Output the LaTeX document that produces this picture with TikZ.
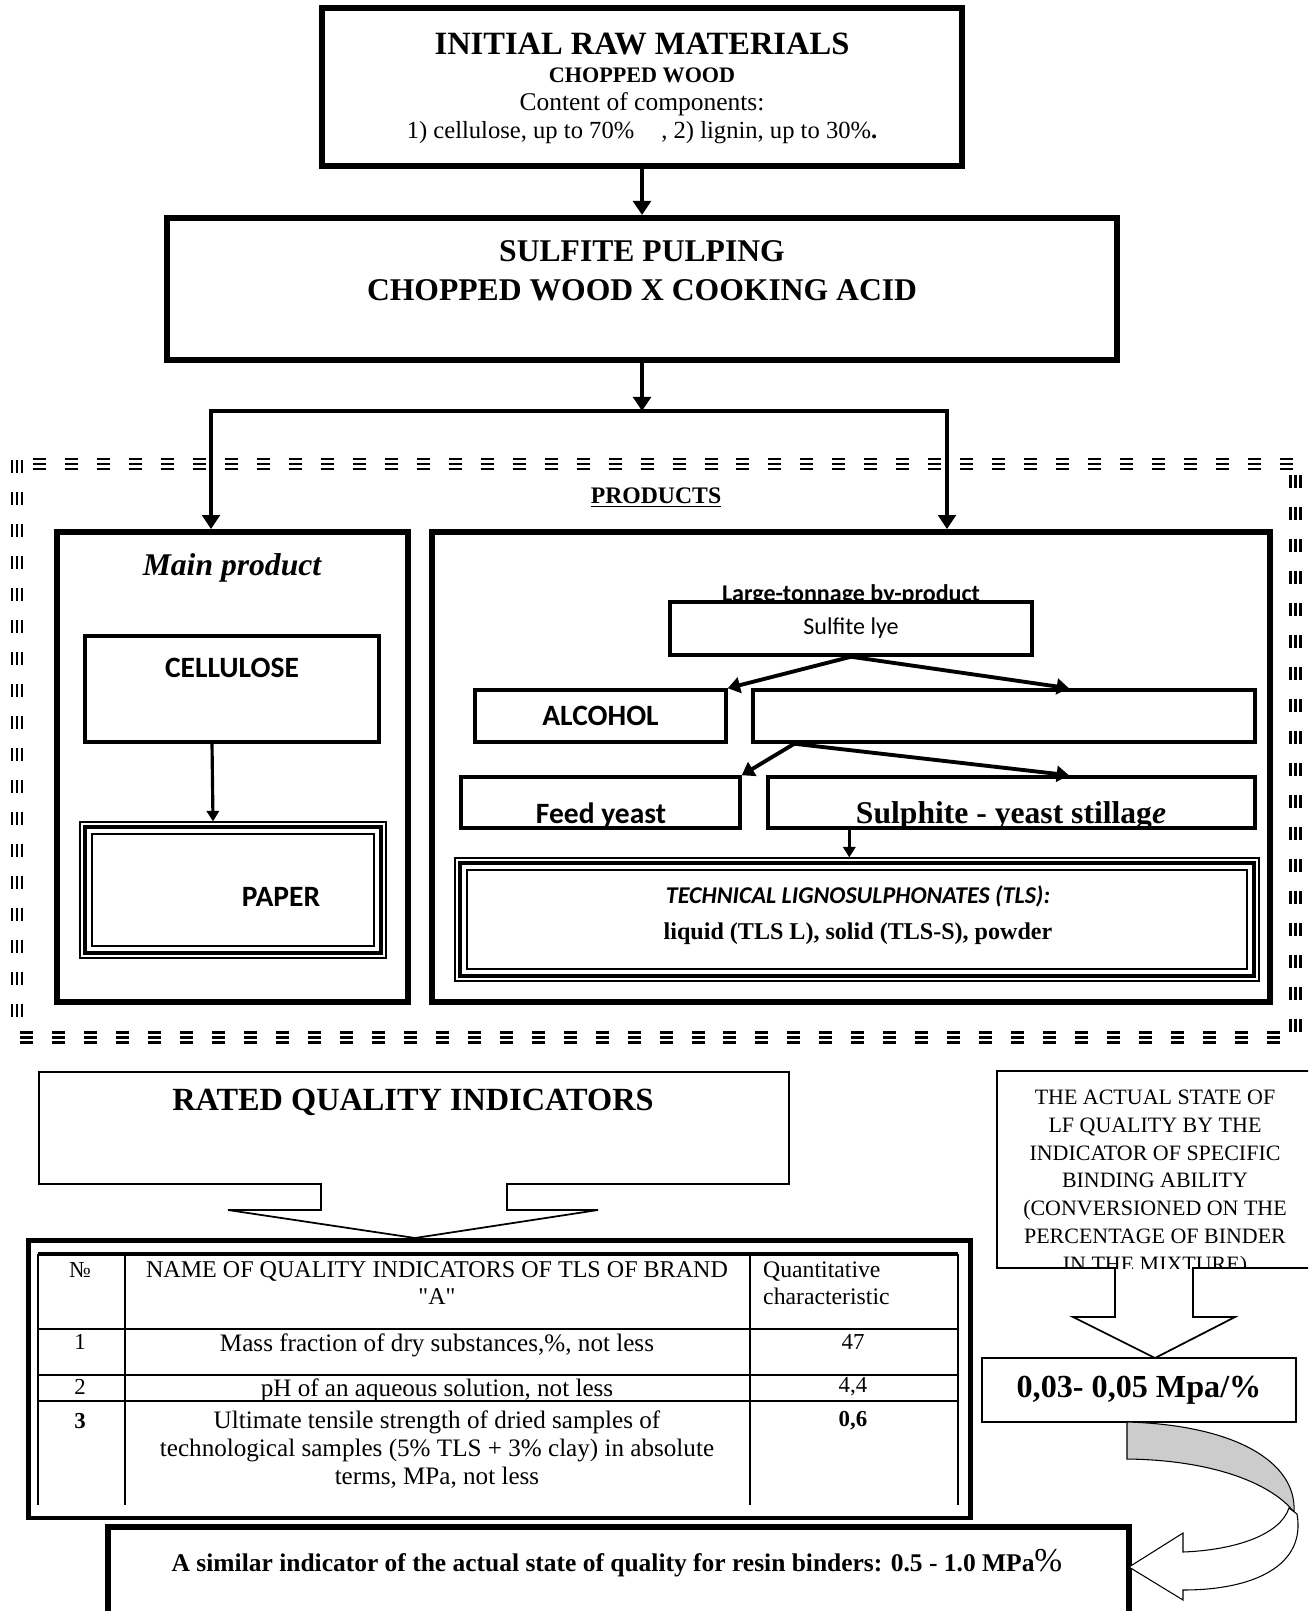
\documentclass[tikz,border=0pt]{standalone}
\usepackage{fontspec}
\setmainfont{Liberation Serif}
\newfontfamily\calibfont{Carlito}
\usetikzlibrary{arrows.meta}

\newcommand{\fsz}[2]{\fontsize{#1}{#2}\selectfont}
\newcommand{\tripleframe}[1]{%
  \draw[line width=2.2pt] ([xshift=0.11cm,yshift=-0.11cm]#1.north west) rectangle ([xshift=-0.11cm,yshift=0.11cm]#1.south east);
  \draw[line width=0.9pt] ([xshift=0.25cm,yshift=-0.25cm]#1.north west) rectangle ([xshift=-0.25cm,yshift=0.25cm]#1.south east);}

\begin{document}
\begin{tikzpicture}[x=0.02cm, y=-0.02cm,
    heavybox/.style={draw, line width=3.4pt, inner sep=0pt},
    midbox/.style={draw, line width=2pt, inner sep=0pt},
    thinbox/.style={draw, line width=0.7pt, inner sep=0pt},
    thinline/.style={line width=1pt},
    calib/.style={font=\calibfont\bfseries\fsz{16.8}{20}},
    arr/.style={line width=2.6pt, -{Triangle[length=8pt,width=10pt]}},
    arrboth/.style={line width=2.6pt, {Triangle[length=8pt,width=10pt]}-{Triangle[length=8pt,width=10pt]}},
    subarr/.style={line width=2.2pt, -{Triangle[length=7pt,width=9pt]}},
    midarr/.style={line width=1.8pt, -{Triangle[length=6pt,width=7pt]}},
    frameline/.style={line width=1.7pt, dash pattern=on 7.4pt off 10.8pt}
  ]
  \useasboundingbox (0,0) rectangle (1308,1611);

  % raw materials and pulping
  \node[heavybox, minimum width=12.8cm, minimum height=3.16cm] (raw) at (642,87) {};
  \node[font=\bfseries\fsz{18.5}{21}] (rawtitle) at (642,44) {INITIAL RAW MATERIALS};
  \node[font=\bfseries\fsz{12.6}{15}] (rawsub) at (642,75) {CHOPPED WOOD};
  \node[font=\fsz{14.5}{16}] (rawc1) at (642,104) {Content of components:};
  \node[font=\fsz{14}{16}] (rawc2) at (642,133) {1) cellulose, up to 70\%\hspace{1.1em}, 2) lignin, up to 30\%\textbf{.}};

  \node[heavybox, minimum width=19cm, minimum height=2.84cm] (pulp) at (642,289) {};
  \node[font=\bfseries\fsz{18}{22}, align=center] (pulptxt) at (642,271) {SULFITE PULPING\\CHOPPED WOOD X COOKING ACID};

  \coordinate (split) at (642,411);
  \coordinate (splitL) at (211,411);
  \coordinate (splitR) at (947,411);
  \draw[arr] (raw.south) -- (pulp.north);
  \draw[arr] (pulp.south) -- (split);

  % products frame
  \foreach \off in {-5,0,5} {
    \draw[frameline] (33,{464+\off}) -- (1295,{464+\off});
    \draw[frameline] (20,{1037+\off}) -- (1284,{1037+\off});
    \draw[frameline] ({17+\off},460) -- ({17+\off},1025);
    \draw[frameline] ({1295+\off},475) -- ({1295+\off},1040);
  }
  \node[font=\bfseries\fsz{13.5}{16}] (prod) at (656,498) {\underline{PRODUCTS}};

  \node[heavybox, minimum width=7.02cm, minimum height=9.4cm] (mainbox) at (232.5,767) {};
  \node[heavybox, minimum width=16.76cm, minimum height=9.4cm] (bybox) at (851,767) {};
  \draw[arrboth] (splitL |- mainbox.north) -- (splitL) -- (splitR) -- (splitR |- bybox.north);

  % main product
  \node[font=\bfseries\itshape\fsz{18}{21}] (maintitle) at (232,568) {Main product};
  \node[midbox, minimum width=5.88cm, minimum height=2.12cm] (cell) at (232,689) {};
  \node[calib] (celltxt) at (232,668) {CELLULOSE};
  \node[thinbox, minimum width=6.12cm, minimum height=2.72cm] (paper) at (233,890) {};
  \tripleframe{paper}
  \node[calib] (papertxt) at (281,897) {PAPER};
  \draw[midarr] ([xshift=-0.4cm]cell.south) -- ([xshift=-0.4cm]paper.north);

  % by-product
  \node[font=\calibfont\bfseries\fsz{13.7}{16}, anchor=base] (bytitle) at (851,601) {Large-tonnage by-product};
  \node[midbox, fill=white, minimum width=7.24cm, minimum height=1.06cm, font=\calibfont\fsz{13.7}{16}] (lye) at (851,628.5) {Sulfite lye};
  \node[midbox, minimum width=5.02cm, minimum height=1.04cm, calib] (alc) at (600.5,716) {ALCOHOL};
  \node[midbox, minimum width=10.04cm, minimum height=1.04cm] (emp) at (1004,716) {};
  \node[midbox, minimum width=5.58cm, minimum height=1.02cm] (feed) at (600.5,802.5) {};
  \node[midbox, minimum width=9.74cm, minimum height=1.02cm] (still) at (1011.5,802.5) {};
  \begin{scope}
    \clip (feed.south west) rectangle (feed.north east);
    \node[calib, anchor=base] (feedtxt) at (601,823) {Feed yeast};
  \end{scope}
  \begin{scope}
    \clip (still.south west) rectangle (still.north east);
    \node[font=\bfseries\fsz{18}{21}, anchor=base] (stilltxt) at (1011,823) {Sulphite - yeast stillag\textit{e}};
  \end{scope}
  \coordinate (empout) at ([xshift=0.86cm]emp.south west);
  \coordinate (stillout) at ([xshift=1.66cm]still.south west);
  \draw[subarr] (lye.south) -- (alc.north east);
  \draw[subarr] (lye.south) -- ([xshift=1.3cm]emp.north);
  \draw[subarr] (empout) -- (feed.north east);
  \draw[subarr] (empout) -- ([xshift=1.15cm]still.north);

  \node[thinbox, minimum width=16.08cm, minimum height=2.46cm] (tls) at (857,919.5) {};
  \tripleframe{tls}
  \draw[midarr] (stillout) -- (stillout |- tls.north);
  \node[font=\calibfont\bfseries\itshape\fsz{13.7}{16}] (tlshead) at (858,896) {TECHNICAL LIGNOSULPHONATES (TLS):};
  \node[font=\bfseries\fsz{13.7}{16}] (tlsforms) at (858,934) {liquid (TLS L), solid (TLS-S), powder};

  % rated quality indicators
  \draw[thinline] (39,1072) -- (789,1072) -- (789,1184) -- (507,1184) -- (507,1210) -- (598,1210)
    -- (415,1238) -- (228,1210) -- (321,1210) -- (321,1184) -- (39,1184) -- cycle;
  \node[font=\bfseries\fsz{18.4}{21}] (ratedtxt) at (413,1102) {RATED QUALITY INDICATORS};

  \node[draw, line width=2.8pt, inner sep=0pt, minimum width=18.86cm, minimum height=5.56cm] (tab) at (499.5,1379) {};
  \draw[line width=1.8pt] (38,1254) -- (958,1254);
  \foreach \cx in {38,125,750,958}
    \draw[line width=1.2pt] (\cx,1254) -- (\cx,1505);
  \foreach \ry in {1329,1375,1401}
    \draw[line width=1.5pt] (38,\ry) -- (958,\ry);

  \node[font=\fsz{13}{15}] (hno) at (80,1270) {№};
  \node[font=\fsz{13.7}{15.3}, align=center] (hname) at (437,1283) {NAME OF QUALITY INDICATORS OF TLS OF BRAND\\\textquotedbl A\textquotedbl};
  \node[font=\fsz{13.5}{15.3}, align=left, anchor=west] (hval) at (757,1283) {Quantitative\\characteristic};
  \node[font=\fsz{13}{15}] (n1) at (80,1342) {1};
  \node[font=\fsz{14.3}{16}] (t1) at (437,1345) {Mass fraction of dry substances,\%, not less};
  \node[font=\fsz{13}{15}] (v1) at (853,1342) {47};
  \node[font=\fsz{13}{15}] (n2) at (80,1387) {2};
  \node[font=\fsz{14.3}{16}] (t2) at (437,1390) {pH of an aqueous solution, not less};
  \node[font=\fsz{13}{15}] (v2) at (853,1387) {4,4};
  \node[font=\bfseries\fsz{13}{15}] (n3) at (80,1421) {3};
  \node[font=\fsz{14.3}{15.9}, align=center] (t3) at (437,1450) {Ultimate tensile strength of dried samples of\\technological samples (5\% TLS + 3\% clay) in absolute\\terms, MPa, not less};
  \node[font=\bfseries\fsz{13}{15}] (v3) at (853,1421) {0,6};

  % actual state of quality
  \draw[thinline] (1308,1071) -- (997,1071) -- (997,1268) -- (1115,1268) -- (1115,1317) -- (1073,1317)
    -- (1155,1358) -- (1235,1317) -- (1193,1317) -- (1193,1268) -- (1308,1268);
  \begin{scope}
    \clip (997,1071) rectangle (1308,1268);
    \node[font=\fsz{12.5}{15.8}, align=center] (actual) at (1155,1183) {THE ACTUAL STATE OF\\LF QUALITY BY THE\\INDICATOR OF SPECIFIC\\BINDING ABILITY\\(CONVERSIONED ON THE\\PERCENTAGE OF BINDER\\IN THE MIXTURE)};
  \end{scope}
  \node[draw, line width=1.3pt, minimum width=6.28cm, minimum height=1.28cm, font=\bfseries\fsz{18.3}{22}] (value) at (1139,1390) {0,03- 0,05 Mpa/\%};

  \draw[line width=3.4pt] (108,1611) -- (108,1527) -- (1129,1527) -- (1129,1611);
  \node[font=\bfseries\fsz{14.5}{17}] (resin) at (617,1563) {A similar indicator of the actual state of quality for resin binders: 0.5 - 1.0 MPa{\mdseries\fsz{19}{20}\%}};

  % curved arrow
  \draw[line width=0.6pt, fill=gray!40] (1127,1422) .. controls (1235,1425) and (1297,1462) .. (1294,1512)
    .. controls (1270,1482) and (1210,1460) .. (1127,1459) -- cycle;
  \draw[line width=0.6pt, fill=white] (1297,1514) .. controls (1306,1565) and (1255,1590) .. (1183,1590)
    -- (1183,1600) -- (1129,1567) -- (1183,1533) -- (1183,1552)
    .. controls (1235,1550) and (1280,1535) .. (1289,1508) -- cycle;
\end{tikzpicture}
\end{document}
